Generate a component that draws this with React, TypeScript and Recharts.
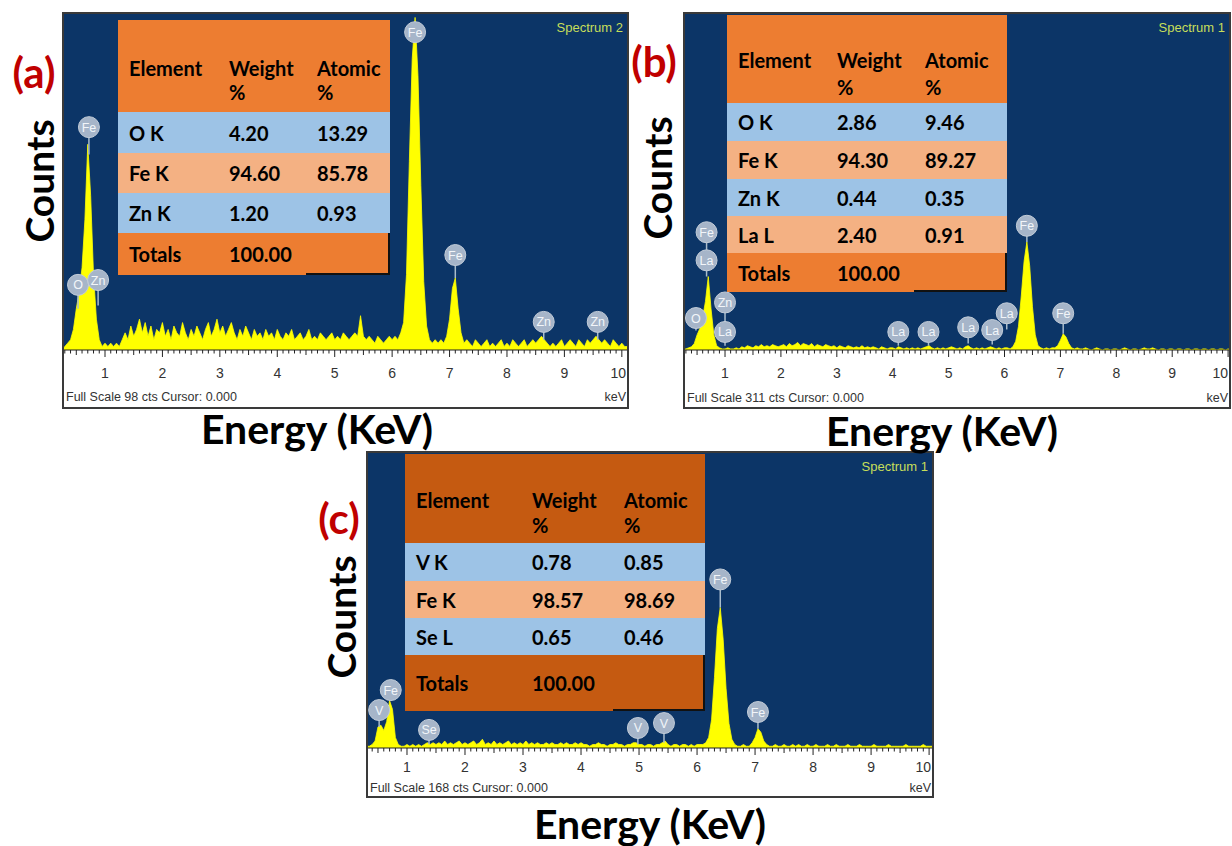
import React from 'react';
import { AreaChart, Area, XAxis, YAxis, CartesianGrid, ReferenceDot, ReferenceLine } from 'recharts';

// ---------- spectrum channels: first channel energy and channel width (keV) ----------
const E_START = 0.25;
const E_STEP = 0.05;

// counts per channel, one row per keV (row 0 = 0.25..0.95 keV)
const SPEC_A = [
  0, 1, 2, 3, 6, 12, 17, 24, 38, 60, 45, 22, 9, 3, 1,
  2, 1, 2, 1, 2, 1, 3, 5, 3, 7, 4, 6, 9, 5, 8, 4, 7, 3, 6, 5,
  8, 4, 6, 3, 7, 5, 4, 8, 5, 3, 6, 4, 7, 5, 3, 6, 8, 4, 6, 9,
  5, 7, 4, 6, 8, 5, 3, 6, 4, 7, 5, 3, 6, 4, 5, 3, 6, 4, 5, 3,
  6, 4, 3, 5, 4, 6, 3, 4, 5, 3, 4, 6, 3, 4, 3, 5, 4, 3, 4, 5,
  3, 4, 3, 5, 4, 3, 4, 5, 4, 10, 4, 3, 4, 3, 2, 4, 3, 2, 3, 4,
  3, 4, 3, 5, 8, 22, 55, 85, 97, 80, 48, 20, 7, 3, 2, 3, 2, 3, 2, 4,
  9, 18, 21, 12, 5, 2, 3, 2, 1, 3, 2, 1, 2, 3, 1, 2, 1, 2, 3, 1,
  2, 1, 3, 2, 1, 2, 3, 1, 2, 3, 2, 3, 4, 3, 2, 1, 2, 1, 2, 3,
  1, 2, 3, 2, 1, 3, 2, 1, 3, 2, 3, 4, 3, 2, 3, 2, 1, 3, 2, 1,
  2, 1, 1,
];

const SPEC_B = [
  1, 1, 2, 3, 6, 14, 20, 30, 45, 68, 38, 14, 4, 2, 1,
  1, 2, 1, 1, 2, 1, 3, 2, 4, 3, 2, 4, 3, 5, 3, 4, 3, 5, 4, 3,
  4, 5, 3, 6, 4, 5, 7, 4, 6, 5, 4, 6, 3, 5, 4, 3, 5, 4, 3, 4,
  2, 4, 3, 2, 4, 3, 2, 3, 2, 4, 2, 3, 2, 3, 2, 1, 3, 2, 1, 2,
  2, 1, 3, 2, 1, 2, 1, 2, 1, 2, 1, 2, 3, 4, 2, 1, 2, 1, 2, 1,
  2, 3, 2, 1, 2, 1, 3, 4, 2, 1, 2, 1, 2, 1, 2, 3, 2, 1, 2, 1,
  2, 2, 1, 3, 8, 22, 50, 82, 100, 78, 40, 14, 4, 2, 1, 2, 1, 2, 2, 4,
  9, 15, 12, 6, 2, 1, 2, 1, 1, 2, 1, 0, 1, 2, 1, 0, 1, 1, 0, 1,
  1, 0, 1, 2, 1, 0, 1, 1, 0, 1, 2, 1, 1, 2, 1, 0, 1, 1, 0, 1,
  1, 0, 1, 1, 0, 1, 1, 0, 1, 1, 0, 1, 1, 0, 1, 1, 0, 1, 1, 0,
  1, 0, 0,
];

const SPEC_C = [
  0, 1, 1, 2, 4, 12, 13, 10, 15, 27, 22, 6, 2, 1, 1,
  2, 1, 2, 1, 2, 1, 2, 3, 2, 3, 2, 3, 2, 4, 2, 3, 2, 3, 4, 2,
  3, 2, 3, 4, 2, 3, 5, 2, 3, 2, 4, 2, 3, 2, 3, 4, 2, 3, 2, 3,
  2, 4, 2, 3, 2, 3, 2, 2, 3, 2, 3, 2, 2, 3, 2, 3, 2, 2, 3, 2,
  3, 2, 2, 1, 2, 2, 3, 2, 2, 1, 2, 2, 3, 2, 2, 1, 2, 2, 3, 3,
  2, 2, 1, 2, 2, 1, 2, 2, 3, 4, 2, 1, 2, 2, 1, 2, 2, 1, 2, 1,
  2, 2, 2, 3, 6, 16, 40, 68, 80, 62, 34, 14, 5, 2, 1, 1, 2, 1, 1, 3,
  6, 11, 9, 4, 2, 1, 1, 2, 1, 1, 2, 1, 1, 2, 1, 2, 1, 1, 2, 1,
  1, 2, 1, 1, 1, 2, 1, 1, 2, 1, 1, 1, 2, 1, 1, 1, 2, 1, 1, 1,
  1, 2, 1, 1, 1, 1, 2, 1, 1, 1, 1, 1, 2, 1, 1, 1, 1, 1, 2, 1,
  1, 1, 1,
];

// element markers: energy, count at marker centre, count where the stem ends
const MARKERS_A = [
  { e: 0.53, y: 19, to: 12, label: 'O' },
  { e: 0.88, y: 20.4, to: 13, label: 'Zn' },
  { e: 0.72, y: 65, to: 57, label: 'Fe' },
  { e: 6.40, y: 92.7, to: 92.7, label: 'Fe' },
  { e: 7.10, y: 27.7, to: 21, label: 'Fe' },
  { e: 8.64, y: 8.2, to: 3, label: 'Zn' },
  { e: 9.58, y: 8.2, to: 3, label: 'Zn' },
];

const MARKERS_B = [
  { e: 0.48, y: 29.6, to: 18, label: 'O' },
  { e: 0.67, y: 109, to: 83, label: 'Fe' },
  { e: 0.67, y: 83, to: 68, label: 'La' },
  { e: 1.0, y: 44, to: 16.7, label: 'Zn' },
  { e: 1.0, y: 16.7, to: 4, label: 'La' },
  { e: 4.1, y: 16.7, to: 4, label: 'La' },
  { e: 4.64, y: 16.7, to: 4, label: 'La' },
  { e: 5.35, y: 21, to: 6, label: 'La' },
  { e: 5.78, y: 18.5, to: 5, label: 'La' },
  { e: 6.04, y: 34, to: 19, label: 'La' },
  { e: 6.4, y: 115, to: 100, label: 'Fe' },
  { e: 7.05, y: 34, to: 15, label: 'Fe' },
];

const MARKERS_C = [
  { e: 0.52, y: 21.6, to: 12, label: 'V' },
  { e: 0.72, y: 33, to: 27, label: 'Fe' },
  { e: 1.38, y: 10.3, to: 2, label: 'Se' },
  { e: 4.98, y: 11.4, to: 2, label: 'V' },
  { e: 5.43, y: 14.2, to: 3, label: 'V' },
  { e: 6.4, y: 96, to: 80, label: 'Fe' },
  { e: 7.05, y: 20.5, to: 11, label: 'Fe' },
];

const MAJOR_TICKS = [1, 2, 3, 4, 5, 6, 7, 8, 9, 10];
const MINOR_TICKS = Array.from({ length: 98 }, (_, i) => (3 + i) / 10);

// tables
const TABLE_HEAD = [['Element'], ['Weight', '%'], ['Atomic', '%']];
const TABLE_A = [
  ['O K', '4.20', '13.29'],
  ['Fe K', '94.60', '85.78'],
  ['Zn K', '1.20', '0.93'],
  ['Totals', '100.00', ''],
];
const TABLE_B = [
  ['O K', '2.86', '9.46'],
  ['Fe K', '94.30', '89.27'],
  ['Zn K', '0.44', '0.35'],
  ['La L', '2.40', '0.91'],
  ['Totals', '100.00', ''],
];
const TABLE_C = [
  ['V K', '0.78', '0.85'],
  ['Fe K', '98.57', '98.69'],
  ['Se L', '0.65', '0.46'],
  ['Totals', '100.00', ''],
];

const NAVY = '#0c3567';
const YELLOW = '#ffff00';
const ORANGE = '#ed7d31';
const DARK_ORANGE = '#c55a11';
const LIGHT_BLUE = '#9dc3e6';
const SALMON = '#f4b183';
const NARROW = '"Liberation Sans Narrow", "Liberation Sans", Arial, sans-serif';
const BOLD_FONT = 'Lato, "Open Sans", sans-serif';

const markerShape = (label: string) => (p: any) => (
  <g>
    <circle cx={p.cx} cy={p.cy} r={10.5} fill="#a6b5c9" stroke="#c2ccd8" strokeWidth={1} />
    <text x={p.cx} y={p.cy + 4.5} textAnchor="middle" fontSize={12.5} fill="#f2f5f9" fontFamily={NARROW}>
      {label}
    </text>
  </g>
);

const makeTick = (labelDy: number, innerW: number) => (props: any) => {
  const { x, y, payload } = props;
  const v = payload.value;
  const major = Math.abs(v - Math.round(v)) < 1e-6;
  const half = Math.abs(v * 2 - Math.round(v * 2)) < 1e-6;
  const len = major ? 7 : half ? 5 : 3.5;
  const label = String(Math.round(v));
  const atEdge = x + 8 > innerW;
  return (
    <g>
      <line x1={x} x2={x} y1={y} y2={y + len} stroke="#222" strokeWidth={1} />
      {major && MAJOR_TICKS.includes(Math.round(v)) && (
        <text
          x={atEdge ? innerW - 1 : x}
          y={y + labelDy}
          textAnchor={atEdge ? 'end' : 'middle'}
          fontSize={14}
          fill="#333"
          fontFamily={NARROW}
        >
          {label}
        </text>
      )}
    </g>
  );
};

function Spectrum(props: any) {
  const { left, top, width, height, plotH, domain, fullScale, data, markers, scaleText, name, labelDy, textTop } = props;
  const rows = data.map((c: number, i: number) => ({ e: +(E_START + E_STEP * i).toFixed(2), c }));
  const innerW = width - 4;
  const innerH = height - 4;
  return (
    <div
      style={{
        position: 'absolute', left, top, width, height, border: '2px solid #3a3a3a',
        boxSizing: 'border-box', background: '#fff', overflow: 'hidden',
      }}
    >
      <AreaChart width={innerW} height={innerH} data={rows} margin={{ top: 0, right: 0, bottom: 0, left: 0 }}>
        <CartesianGrid fill={NAVY} stroke="none" horizontal={false} vertical={false} />
        <XAxis
          type="number"
          dataKey="e"
          domain={domain}
          allowDataOverflow
          ticks={MINOR_TICKS}
          interval={0}
          tick={makeTick(labelDy, innerW)}
          tickLine={false}
          tickSize={0}
          tickMargin={0}
          axisLine={{ stroke: '#222' }}
          height={innerH - plotH}
        />
        <YAxis hide domain={[0, fullScale]} allowDataOverflow />
        <Area
          type="linear"
          dataKey="c"
          stroke={YELLOW}
          strokeWidth={0.8}
          fill={YELLOW}
          fillOpacity={1}
          isAnimationActive={false}
          dot={false}
          activeDot={false}
        />
        {markers.map((m: any, i: number) => (
          <ReferenceLine
            key={'s' + i}
            segment={[{ x: m.e, y: m.y }, { x: m.e, y: m.to }]}
            stroke="#a9bccc"
            strokeWidth={1.5}
          />
        ))}
        {markers.map((m: any, i: number) => (
          <ReferenceDot key={'d' + i} x={m.e} y={m.y} r={10.5} shape={markerShape(m.label)} />
        ))}
      </AreaChart>
      <div style={{ position: 'absolute', right: 4, top: 7, color: '#c6de5a', fontFamily: NARROW, fontSize: 13, lineHeight: '14px' }}>
        {name}
      </div>
      <div style={{ position: 'absolute', left: 2, top: textTop, color: '#333', fontFamily: NARROW, fontSize: 12.5, lineHeight: '14px' }}>
        {scaleText}
      </div>
      <div style={{ position: 'absolute', right: 1, top: textTop, color: '#333', fontFamily: NARROW, fontSize: 12.5, lineHeight: '14px' }}>
        keV
      </div>
    </div>
  );
}

function EdsTable(props: any) {
  const { left, top, cols, headH, rowHs, headColor, rowColors, rows, headPad, lineH } = props;
  const cell = (w: number, extra: any = {}) => ({
    width: w, boxSizing: 'border-box' as const, paddingLeft: 11, display: 'flex', alignItems: 'center', ...extra,
  });
  return (
    <div style={{ position: 'absolute', left, top, fontFamily: BOLD_FONT, fontWeight: 700, fontSize: 20, color: '#000' }}>
      <div style={{ display: 'flex', height: headH, background: headColor }}>
        {TABLE_HEAD.map((h, i) => (
          <div key={i} style={{ width: cols[i], boxSizing: 'border-box', paddingLeft: 11, paddingTop: headPad, lineHeight: lineH + 'px' }}>
            {h.map((t, j) => (
              <div key={j}>{t}</div>
            ))}
          </div>
        ))}
      </div>
      {rows.map((r: string[], ri: number) => {
        const isTotal = ri === rows.length - 1;
        return (
          <div key={ri} style={{ display: 'flex', height: rowHs[ri], background: rowColors[ri] }}>
            {r.map((t, ci) => (
              <div
                key={ci}
                style={cell(
                  cols[ci],
                  isTotal && ci === 2 ? { borderRight: '2px solid #111', borderBottom: '2px solid #111' } : {}
                )}
              >
                {t}
              </div>
            ))}
          </div>
        );
      })}
    </div>
  );
}

const bigText = (text: string, cx: number, cy: number, size: number, color: string, rotate = false) => (
  <div
    style={{
      position: 'absolute', left: cx, top: cy, whiteSpace: 'nowrap', fontFamily: BOLD_FONT, fontWeight: 700,
      fontSize: size, lineHeight: 1, color,
      transform: rotate ? 'translate(-50%, -50%) rotate(-90deg)' : 'translate(-50%, -50%)',
    }}
  >
    {text}
  </div>
);

export default function App() {
  return (
    <div style={{ position: 'absolute', left: 0, top: 0, width: 1232, height: 846, background: '#fff', overflow: 'hidden' }}>
      <Spectrum
        left={62} top={12} width={567} height={397} plotH={336}
        domain={[0.286, 10.09]} fullScale={98} data={SPEC_A} markers={MARKERS_A}
        scaleText="Full Scale 98 cts Cursor: 0.000" name="Spectrum 2" labelDy={28} textTop={376}
      />
      <Spectrum
        left={683} top={12} width={548} height={397} plotH={336}
        domain={[0.284, 10.016]} fullScale={311} data={SPEC_B} markers={MARKERS_B}
        scaleText="Full Scale 311 cts Cursor: 0.000" name="Spectrum 1" labelDy={28} textTop={377}
      />
      <Spectrum
        left={366} top={451} width={568} height={347} plotH={295}
        domain={[0.328, 10.05]} fullScale={168} data={SPEC_C} markers={MARKERS_C}
        scaleText="Full Scale 168 cts Cursor: 0.000" name="Spectrum 1" labelDy={24} textTop={328}
      />

      <EdsTable
        left={118} top={20} cols={[100, 88, 84]} headH={92} rowHs={[41, 40, 40, 42]}
        headColor={ORANGE} rowColors={[LIGHT_BLUE, SALMON, LIGHT_BLUE, ORANGE]} rows={TABLE_A}
        headPad={36} lineH={24}
      />
      <EdsTable
        left={727} top={15} cols={[99, 88, 93]} headH={88} rowHs={[38, 38, 37, 37, 39]}
        headColor={ORANGE} rowColors={[LIGHT_BLUE, SALMON, LIGHT_BLUE, SALMON, ORANGE]} rows={TABLE_B}
        headPad={32} lineH={27}
      />
      <EdsTable
        left={405} top={454} cols={[116, 92, 92]} headH={89} rowHs={[38, 37, 37, 56]}
        headColor={DARK_ORANGE} rowColors={[LIGHT_BLUE, SALMON, LIGHT_BLUE, DARK_ORANGE]} rows={TABLE_C}
        headPad={34} lineH={25}
      />

      {bigText('(a)', 34, 72, 42, '#c00000')}
      {bigText('(b)', 654, 61, 42, '#c00000')}
      {bigText('(c)', 339, 518, 42, '#c00000')}
      {bigText('Counts', 39, 181, 39, '#000', true)}
      {bigText('Counts', 657, 178, 39, '#000', true)}
      {bigText('Counts', 341, 617, 39, '#000', true)}
      {bigText('Energy (KeV)', 317, 428, 41, '#000')}
      {bigText('Energy (KeV)', 942, 430, 41, '#000')}
      {bigText('Energy (KeV)', 650, 823, 41, '#000')}
    </div>
  );
}
